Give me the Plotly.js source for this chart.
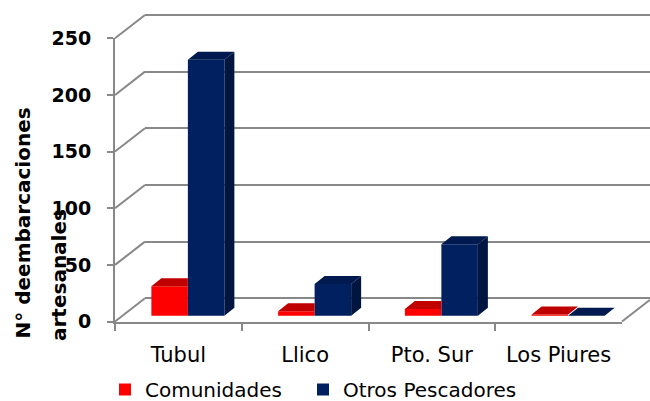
<!DOCTYPE html>
<html>
<head>
<meta charset="utf-8">
<script src="https://cdn.plot.ly/plotly-3.0.1.min.js"></script>
<style>html,body{margin:0;padding:0;background:#fff}#chart{width:650px;height:401px}</style>
</head>
<body>
<div id="chart"></div>
<script>
// ---- data ----
const categories = ['Tubul', 'Llico', 'Pto. Sur', 'Los Piures'];
const comunidades = [26, 4, 6, 1];
const otrosPescadores = [226, 28, 63, 0];
const yTickValues = [0, 50, 100, 150, 200, 250];
const seriesNames = ['Comunidades', 'Otros Pescadores'];
const titleLines = ['N° deembarcaciones', 'artesanales'];

// ---- geometry (pixels) ----
const W = 650, H = 401;
const FRONT = {x0: 115, x1: 622, y0: 321.5, y1: 38.3};
const BACK = {x0: 145, x1: 650, y0: 298.3, y1: 15};
const YMAX = 250;
const px = x => x / W;
const py = y => (H - y) / H;
const catPx = (FRONT.x1 - FRONT.x0) / categories.length;
const unitPx = (FRONT.y0 - FRONT.y1) / YMAX;
const barShiftX = 9.5 / catPx;      // bar plane shift (category units)
const barShiftY = 5.8 / unitPx;     // bar plane shift (value units)
const barW = 0.288;                 // bar width in category units
const depthX = 10 / catPx, depthY = 8 / unitPx;

const grey = '#888888';
const idx = categories.map((c, i) => i);

// ---- 3D faces built from data ----
function poly(list) {
  const xs = [], ys = [];
  list.forEach(p => { p.forEach(q => { xs.push(q[0]); ys.push(q[1]); }); xs.push(p[0][0]); ys.push(p[0][1]); xs.push(null); ys.push(null); });
  return {x: xs, y: ys};
}
const redTop = poly(idx.map(i => {
  const v = comunidades[i], xl = i - barW, xr = i;
  if (otrosPescadores[i] > v) return [[xl, v], [xr, v], [xr, v + depthY], [xl + depthX, v + depthY]];
  return [[xl, v], [xr, v], [xr + depthX, v + depthY], [xl + depthX, v + depthY]];
}));
const blueSide = poly(idx.map(i => {
  const v = otrosPescadores[i], xr = i + barW;
  return [[xr, 0], [xr + depthX, depthY], [xr + depthX, v + depthY], [xr, v]];
}));
const blueTop = poly(idx.map(i => {
  const v = otrosPescadores[i], xl = i, xr = i + barW;
  return [[xl, v], [xr, v], [xr + depthX, v + depthY], [xl + depthX, v + depthY]];
}));
function face(p, color) {
  return {type: 'scatter', mode: 'lines', x: p.x, y: p.y, fill: 'toself', fillcolor: color,
    line: {width: 0, color: color}, xaxis: 'x3', yaxis: 'y3', hoverinfo: 'skip', showlegend: false};
}

const traces = [
  {type: 'scatter', x: [0], y: [0], mode: 'markers', marker: {opacity: 0}, xaxis: 'x', yaxis: 'y', hoverinfo: 'skip', showlegend: false},
  {type: 'scatter', x: [categories[0]], y: [0], mode: 'markers', marker: {opacity: 0}, xaxis: 'x2', yaxis: 'y2', hoverinfo: 'skip', showlegend: false},
  {type: 'bar', name: seriesNames[0], x: idx, y: comunidades, marker: {color: '#FF0000', line: {width: 0}}, xaxis: 'x3', yaxis: 'y3', legend: 'legend'},
  {type: 'bar', name: seriesNames[1], x: idx, y: otrosPescadores, marker: {color: '#002060', line: {width: 0}}, xaxis: 'x3', yaxis: 'y3', legend: 'legend2'},
  face(redTop, '#C00000'),
  face(blueSide, '#001641'),
  face(blueTop, '#001a4f')
];

// ---- wall shapes ----
const yf = v => FRONT.y0 - v * unitPx;
const yb = v => BACK.y0 - v * (BACK.y0 - BACK.y1) / YMAX;
const shapes = yTickValues.map(v => ({type: 'line', xref: 'paper', yref: 'paper',
  x0: px(FRONT.x0), y0: py(yf(v)), x1: px(BACK.x0), y1: py(yb(v)), line: {color: grey, width: 2}}));
const slope = (FRONT.y0 - BACK.y0) / (BACK.x0 - FRONT.x0);
shapes.push({type: 'line', xref: 'paper', yref: 'paper', x0: px(FRONT.x1), y0: py(FRONT.y0),
  x1: px(W), y1: py(FRONT.y0 - (W - FRONT.x1) * slope), line: {color: grey, width: 2}});

const fontReg = 'DejaVu Sans, Verdana, sans-serif';
const annotations = [
  {text: titleLines[0], xref: 'paper', yref: 'paper', x: px(22), y: py(341), xanchor: 'center', yanchor: 'bottom', textangle: -90, showarrow: false,
    font: {family: fontReg, size: 20, color: '#000', weight: 'bold'}},
  {text: titleLines[1], xref: 'paper', yref: 'paper', x: px(59), y: py(343), xanchor: 'center', yanchor: 'bottom', textangle: -90, showarrow: false,
    font: {family: fontReg, size: 20, color: '#000', weight: 'bold'}}
];

const BACK_TOP_RANGE = YMAX + 5;
const legendStyle = x => ({orientation: 'h', x: px(x), xanchor: 'left', y: py(370), yanchor: 'top',
  font: {family: fontReg, size: 20, color: '#000'}, bgcolor: 'rgba(0,0,0,0)'});

const layout = {
  width: W, height: H,
  margin: {l: 0, r: 0, t: 0, b: 0, pad: 0, autoexpand: false},
  paper_bgcolor: '#fff', plot_bgcolor: 'rgba(0,0,0,0)',
  showlegend: true,
  barmode: 'group', bargap: 0.424, bargroupgap: 0,
  font: {family: fontReg, color: '#000'},
  // back wall
  xaxis: {domain: [px(BACK.x0), 1], anchor: 'y', range: [0, 1], showgrid: false, zeroline: false, showline: false, showticklabels: false, ticks: '', fixedrange: true},
  yaxis: {domain: [py(BACK.y0), py(yb(BACK_TOP_RANGE))], anchor: 'x', range: [0, BACK_TOP_RANGE], tickvals: yTickValues, showgrid: true, gridcolor: grey, gridwidth: 2,
    zeroline: true, zerolinecolor: grey, zerolinewidth: 2, showline: false, showticklabels: false, ticks: '', fixedrange: true},
  // front axes
  xaxis2: {domain: [px(FRONT.x0), px(FRONT.x1)], anchor: 'y2', type: 'category', categoryarray: categories, categoryorder: 'array',
    range: [-0.5, categories.length - 0.5], showline: true, linecolor: grey, linewidth: 2, ticks: 'outside', tickson: 'boundaries',
    ticklen: 7, tickwidth: 2, tickcolor: grey, showgrid: false, zeroline: false, tickfont: {family: fontReg, size: 21, color: '#000'},
    ticklabelstandoff: 13, fixedrange: true},
  yaxis2: {domain: [py(FRONT.y0), py(FRONT.y1)], anchor: 'x2', range: [0, YMAX], tickvals: yTickValues, ticktext: yTickValues.map(String),
    showline: true, linecolor: grey, linewidth: 2, ticks: 'outside', ticklen: 6, tickwidth: 2, tickcolor: grey, showgrid: false, zeroline: false,
    tickfont: {family: fontReg, size: 19, color: '#000', weight: 'bold'}, ticklabelstandoff: 12, fixedrange: true},
  // bar plane
  xaxis3: {overlaying: 'x2', anchor: 'y3', range: [-0.5 - barShiftX, categories.length - 0.5 - barShiftX], visible: false, fixedrange: true},
  yaxis3: {overlaying: 'y2', anchor: 'x3', range: [-barShiftY, YMAX - barShiftY], visible: false, fixedrange: true},
  legend: legendStyle(105),
  legend2: legendStyle(303),
  shapes: shapes,
  annotations: annotations
};

Plotly.newPlot('chart', traces, layout, {displayModeBar: false, staticPlot: true});
</script>
</body>
</html>
